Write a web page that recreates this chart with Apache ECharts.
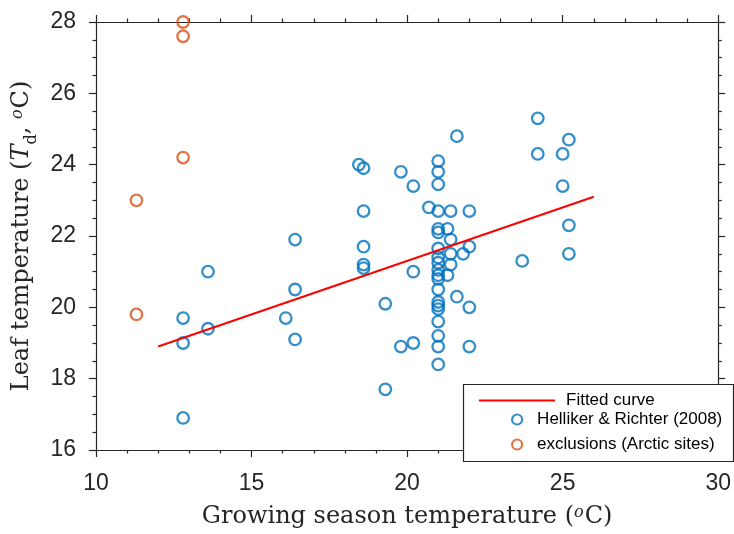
<!DOCTYPE html>
<html>
<head>
<meta charset="utf-8">
<script src="https://cdn.jsdelivr.net/npm/echarts@6/dist/echarts.min.js"></script>
<style>html,body{margin:0;padding:0;background:#fff}#c{width:734px;height:534px}</style>
</head>
<body>
<div id="c"></div>
<script>
// Helliker & Richter (2008) sites
const blueX = [12.8,12.8,12.8,13.6,13.6,16.1,16.4,16.4,16.4,18.45,18.6,18.6,18.6,18.6,18.6,19.3,19.3,19.8,19.8,20.2,20.2,20.2,20.7,
  21,21,21,21,21,21,21,21,21,21,21,21,21,21,21,21,21,21,21,21,
  21.3,21.3,21.4,21.4,21.4,21.4,21.6,21.6,21.8,22,22,22,22,23.7,24.2,24.2,25,25,25.2,25.2,25.2];
const blueY = [19.7,19.0,16.9,21.0,19.4,19.7,21.9,20.5,19.1,24.0,23.9,22.7,21.7,21.2,21.1,20.1,17.7,23.8,18.9,23.4,21.0,19.0,22.8,
  24.1,23.8,23.45,22.7,22.2,22.1,21.65,21.4,21.25,21.05,20.9,20.8,20.5,20.15,20.05,19.95,19.6,19.2,18.9,18.4,
  22.2,20.9,22.7,21.9,21.5,21.2,24.8,20.3,21.5,22.7,21.7,20.0,18.9,21.3,25.3,24.3,24.3,23.4,24.7,22.3,21.5];
// exclusions (Arctic sites)
const orangeX = [12.8,12.8,12.8,11.3,11.3];
const orangeY = [28.0,27.6,24.2,23.0,19.8];
// fitted curve end points
const fitX = [12, 26];
const fitY = [18.9, 23.1];
// axes
const xTicks = [10,15,20,25,30];
const yTicks = [16,18,20,22,24,26,28];
const seriesNames = ['Fitted curve','Helliker & Richter (2008)','exclusions (Arctic sites)'];

const BLUE = '#0072BD', ORANGE = '#D95319', RED = '#FF0000', AX = '#262626';
const zip = (a,b) => a.map((v,i)=>[v,b[i]]);

const tickFont = {fontFamily:'"Liberation Sans", Arial, sans-serif', fontSize:23, color:AX};
const serif = '"DejaVu Serif", serif';

function xAx(pos, show){
  return {type:'value', position:pos, min:xTicks[0], max:xTicks[xTicks.length-1], interval:5,
    axisLine:{show:true, onZero:false, lineStyle:{color:AX, width:1.2}},
    axisTick:{show:true, inside:false, length:7, lineStyle:{color:AX, width:1.2}},
    minorTick:{show:true, splitNumber:5, length:3.5, lineStyle:{color:AX, width:1.2}},
    splitLine:{show:false},
    axisLabel:{show:show, margin:22, ...tickFont},
    name: show ? 'Growing season temperature ({sup|o}C)' : '',
    nameLocation:'middle', nameGap:55,
    nameTextStyle:{fontFamily:serif, fontSize:24, color:AX,
      rich:{sup:{fontFamily:serif, fontStyle:'italic', fontSize:16, verticalAlign:'top', lineHeight:14, padding:[0,1,0,0]}}}
  };
}
function yAx(pos, show){
  return {type:'value', position:pos, min:yTicks[0], max:yTicks[yTicks.length-1], interval:2,
    axisLine:{show:true, onZero:false, lineStyle:{color:AX, width:1.2}},
    axisTick:{show:true, inside:false, length:7, lineStyle:{color:AX, width:1.2}},
    minorTick:{show:true, splitNumber:4, length:3.5, lineStyle:{color:AX, width:1.2}},
    splitLine:{show:false},
    axisLabel:{show:show, margin:20, ...tickFont},
    name: show ? 'Leaf temperature ({it|T}{sub|d}, {sup|o}C)' : '',
    nameLocation:'middle', nameGap:57,
    nameTextStyle:{fontFamily:serif, fontSize:24, color:AX,
      rich:{it:{fontFamily:serif, fontStyle:'italic', fontSize:24},
            sub:{fontFamily:serif, fontSize:16, verticalAlign:'bottom', lineHeight:14, padding:[0,0,-6,0]},
            sup:{fontFamily:serif, fontStyle:'italic', fontSize:16, verticalAlign:'top', lineHeight:14, padding:[0,1,0,0]}}}
  };
}

const legendText = {fontFamily:'"Liberation Sans", Arial, sans-serif', fontSize:17, color:'#000'};
const chart = echarts.init(document.getElementById('c'), null, {renderer:'canvas'});
chart.setOption({
  animation:false,
  backgroundColor:'#fff',
  grid:{left:96, right:13, top:22, bottom:84, containLabel:false},
  xAxis:[xAx('bottom', true), xAx('top', false)],
  yAxis:[yAx('left', true), yAx('right', false)],
  graphic:[{type:'rect', z:10, shape:{x:463.5, y:384.5, width:270, height:77},
    style:{fill:'#fff', stroke:AX, lineWidth:1.2}}],
  legend:[
    {data:[{name:seriesNames[0], icon:'rect', itemStyle:{color:RED}}], left:479, top:392, padding:0, z:11,
     itemWidth:76, itemHeight:2, textStyle:{...legendText, padding:[0,0,0,6]}},
    {data:[{name:seriesNames[1], icon:'circle', itemStyle:{color:'rgba(0,0,0,0)', borderColor:BLUE, borderWidth:2.2}}],
     left:511, top:411, padding:0, z:11, itemWidth:14, itemHeight:10, textStyle:{...legendText, padding:[0,0,0,8]}},
    {data:[{name:seriesNames[2], icon:'circle', itemStyle:{color:'rgba(0,0,0,0)', borderColor:ORANGE, borderWidth:2.2}}],
     left:511, top:436, padding:0, z:11, itemWidth:14, itemHeight:10, textStyle:{...legendText, padding:[0,0,0,8]}}
  ],
  series:[
    {name:seriesNames[0], type:'line', data:zip(fitX,fitY), symbol:'none', z:5,
     lineStyle:{color:RED, width:2}, itemStyle:{color:RED}},
    {name:seriesNames[1], type:'scatter', data:zip(blueX,blueY), symbol:'circle', symbolSize:11.5, clip:false, z:3,
     itemStyle:{color:'rgba(0,0,0,0)', borderColor:BLUE, borderWidth:2.3}},
    {name:seriesNames[2], type:'scatter', data:zip(orangeX,orangeY), symbol:'circle', symbolSize:11.5, clip:false, z:3,
     itemStyle:{color:'rgba(0,0,0,0)', borderColor:ORANGE, borderWidth:2.3}}
  ]
});
</script>
</body>
</html>
